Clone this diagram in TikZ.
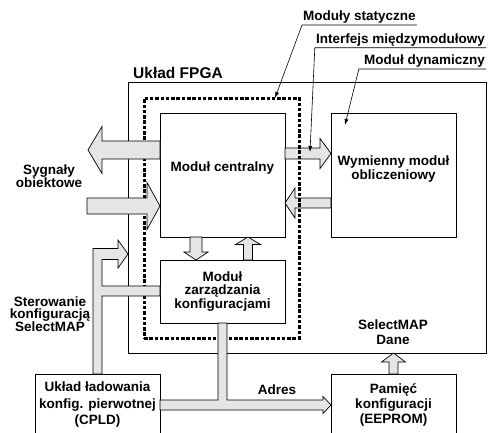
\documentclass[tikz,border=0pt]{standalone}
\usepackage{fontspec}
\setmainfont{Liberation Sans}
\usetikzlibrary{calc,arrows.meta}
\def\fatarrow(#1)(#2)(#3:#4:#5){\path (#2) coordinate (fa tip) ($(#2)!#5pt!(#1)$) coordinate (fa base);
	\draw[pipe] ($(#1)!#3pt!90:(#2)$) -- ($(fa base)!#3pt!90:(#2)$) -- ($(fa base)!#4pt!90:(#2)$) -- (fa tip) -- ($(fa base)!#4pt!-90:(#2)$) -- ($(fa base)!#3pt!-90:(#2)$) -- ($(#1)!#3pt!-90:(#2)$) -- cycle;}

\begin{document}
\begin{tikzpicture}[x=1pt, y=-1pt,
	every node/.style={font=\bfseries\fontsize{13.5}{13.5}\selectfont, align=center},
	lines/.style={font=\bfseries\fontsize{13.5}{#1}\selectfont},
	box/.style={draw, line width=0.8pt, outer sep=0pt, inner sep=0pt},
	pipe/.style={draw, fill=black!10, line width=0.7pt},
	lead/.style={line width=0.6pt, -{Latex[length=6pt,width=4pt]}},
	captxt/.style={inner xsep=1pt, inner ysep=0pt, text height=10pt, text depth=4pt}]
			%%%%% START %%%%%
			\useasboundingbox (0,0) rectangle (490,432);
			
			\node[box, minimum width=358pt, minimum height=271pt] (fpga) at (307,217.5) {};
			\node[anchor=base west, inner sep=0pt, font=\bfseries\fontsize{15.5}{18}\selectfont] (tfpga) at (133,78) {Układ FPGA};
			
			\node[box, minimum width=125pt, minimum height=124pt, label={[yshift=7pt]center:Moduł centralny}] (central) at (222.5,175) {};
			\node[box, minimum width=125pt, minimum height=124pt, label={[yshift=6pt, lines=12.5]center:Wymienny moduł\\obliczeniowy}] (dynamic) at (393.5,175) {};
			\node[box, lines=13.5, minimum width=125pt, minimum height=63pt] (manage) at (222.5,291.5) {Moduł\\zarządzania\\konfiguracjami};
			\node[box, lines=16.5, minimum width=125pt, minimum height=62pt] (cpld) at (97.5,405) {Układ ładowania\\konfig. pierwotnej\\(CPLD)};
			\node[box, lines=15, minimum width=125pt, minimum height=62pt] (eeprom) at (393.5,405) {Pamięć\\konfiguracji\\(EEPROM)};
			
			% interfejs
			\fatarrow(central.east |- 0,153.5)(dynamic.west |- 0,153.5)(5.5:15:11)
			\fatarrow(dynamic.west |- 0,203)(central.east |- 0,203)(5:15:10)
			
			\node[box, line width=3pt, dash pattern=on 3.5pt off 1.8pt, minimum width=155pt, minimum height=240pt] (static) at (221.5,218) {};
			
			% sygnaly obiektowe
			\coordinate (sigout) at (88,150);
			\coordinate (sigin) at (87,206);
			\fatarrow(central.west |- 0,150)(sigout)(9:23.5:14)
			\fatarrow(sigin)(central.west |- 0,206)(8:23.5:13)
			
			\coordinate (dn top) at ([xshift=-26.5pt]central.south);
			\coordinate (dn bot) at ([xshift=-26.5pt]manage.north);
			\coordinate (up bot) at ([xshift=25.5pt]manage.north);
			\coordinate (up top) at ([xshift=25.5pt]central.south);
			\fatarrow(dn top)(dn bot)(6:12:8)
			\fatarrow(up bot)(up top)(4.5:12.5:7.5)
			
			\fatarrow(eeprom.north)(eeprom.north |- fpga.south)(4.5:12:9)
			
			\draw[pipe] ([xshift=-4.5pt]cpld.north) |- (118,248.5) -- (118,240) -- (fpga.west |- 0,254) -- (118,268) -- (118,259.5) -| (102,286)
				-- (manage.west |- 0,286) -- (manage.west |- 0,296) -| ([xshift=4.5pt]cpld.north) -- cycle;
			\draw[pipe] ([yshift=5pt]cpld.east) -| ([xshift=-4.5pt]manage.south) -- ([xshift=4.5pt]manage.south) |- (323,400) -- (323,396.5)
				-- (eeprom.west) -- (323,413.5) -- (323,410) -- ([yshift=-5pt]cpld.east) -- cycle;
			
			\node[lines=13] (tsig) at (49,176.5) {Sygnały\\obiektowe};
			\node[lines=12] (tster) at (50,314) {Sterowanie\\konfiguracją\\SelectMAP};
			\node[lines=15] (tdane) at (393,332.5) {SelectMAP\\Dane};
			\node (tadres) at (277,390) {Adres};
			
			\node[captxt, anchor=south west] (tstatic) at (302,25) {Moduły statyczne};
			\node[captxt, anchor=south east] (tiface) at (486,47.7) {Interfejs międzymodułowy};
			\node[captxt, anchor=south east] (tdyn) at (486,69) {Moduł dynamiczny};
			\coordinate (pstatic) at (275,98);
			\coordinate (piface) at (310,152);
			\coordinate (pdyn) at (345,125);
			\draw[lead] (tstatic.south east) -- (tstatic.south west) -- (pstatic);
			\draw[lead] (tiface.south east) -- (tiface.south west) -- (piface);
			\draw[lead] (tdyn.south east) -- ([xshift=-4pt]tdyn.south west) -- (pdyn);
			
			%%%%% END %%%%%
\end{tikzpicture}
\end{document}
